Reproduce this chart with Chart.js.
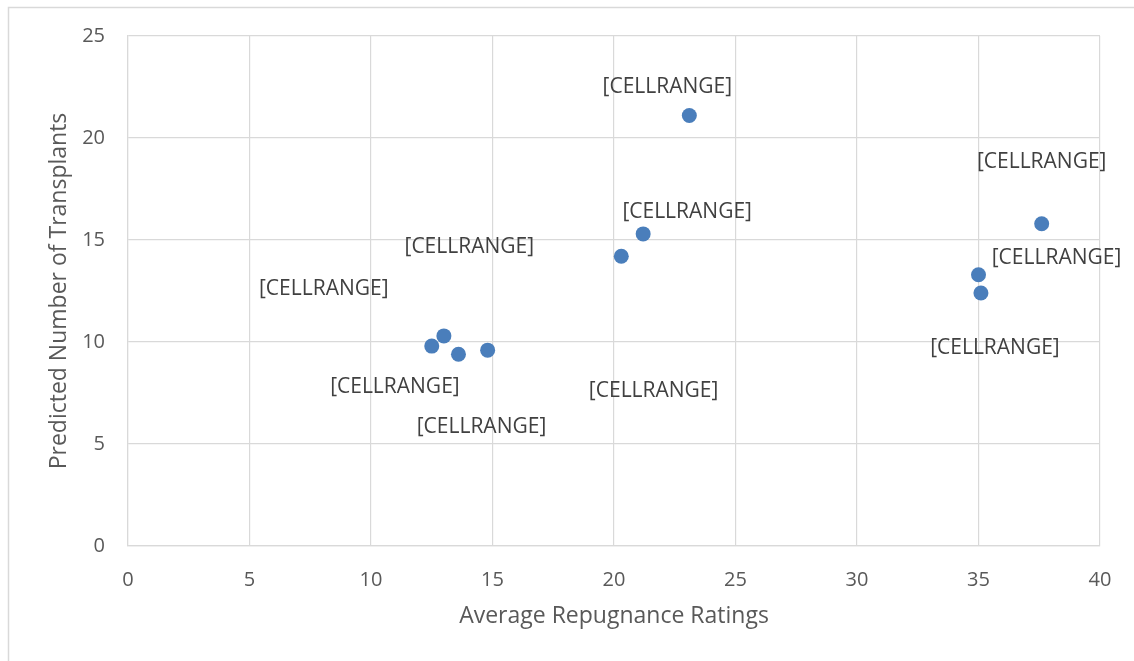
<!DOCTYPE html>
<html>
<head>
<meta charset="utf-8">
<script src="https://cdn.jsdelivr.net/npm/chart.js@4/dist/chart.umd.min.js"></script>
<style>
  body { margin: 0; background: #fff; }
  #wrap { position: relative; width: 1134px; height: 661px; }
</style>
</head>
<body>
<div id="wrap"><canvas id="repugnance-chart"></canvas></div>
<script>
// values
var repugnance = [23.1, 21.2, 20.3, 37.6, 35.0, 35.1, 12.5, 13.0, 13.6, 14.8];
var transplants = [21.1, 15.3, 14.2, 15.8, 13.3, 12.4, 9.8, 10.3, 9.4, 9.6];
var pointLabels = ['[CELLRANGE]', '[CELLRANGE]', '[CELLRANGE]', '[CELLRANGE]', '[CELLRANGE]',
                   '[CELLRANGE]', '[CELLRANGE]', '[CELLRANGE]', '[CELLRANGE]', '[CELLRANGE]'];
var xTitle = 'Average Repugnance Ratings';
var yTitle = 'Predicted Number of Transplants';

var points = [];
for (var i = 0; i < repugnance.length; i++) {
    points.push({x: repugnance[i], y: transplants[i]});
}

// where each label sits relative to its point (px)
var labelOffsets = [[-22, -29], [44, -22], [-152, -9], [0, -62], [78, -17],
                    [14, 55], [-108, -57], [-49, 51], [23, 73], [166, 41]];

var fontFamily = '"Open Sans", "Noto Sans", sans-serif';

var dataLabels = {
    id: 'dataLabels',
    afterDatasetsDraw: function(chart) {
        var ctx = chart.ctx;
        var meta = chart.getDatasetMeta(0);
        ctx.save();
        ctx.font = '21px ' + fontFamily;
        ctx.fillStyle = '#404040';
        ctx.textAlign = 'center';
        ctx.textBaseline = 'middle';
        meta.data.forEach(function(el, i) {
            var off = labelOffsets[i];
            ctx.fillText(pointLabels[i], el.x + off[0], el.y + off[1]);
        });
        ctx.restore();
    }
};

var frame = {
    id: 'frame',
    beforeDraw: function(chart) {
        var ctx = chart.ctx;
        ctx.save();
        ctx.strokeStyle = '#d9d9d9';
        ctx.lineWidth = 1.5;
        ctx.beginPath();
        ctx.moveTo(8.5, chart.height);
        ctx.lineTo(8.5, 7.5);
        ctx.lineTo(chart.width, 7.5);
        ctx.stroke();
        ctx.restore();
    }
};

var ctx = document.getElementById('repugnance-chart').getContext('2d');
var chart = new Chart(ctx, {
    type: 'scatter',
    data: {
        datasets: [{
            label: 'Transplants',
            data: points,
            backgroundColor: '#4a7ebb',
            borderWidth: 0,
            pointRadius: 7.5,
            pointHoverRadius: 7.5
        }]
    },
    options: {
        responsive: true,
        maintainAspectRatio: false,
        animation: false,
        layout: { padding: { top: 36, right: 34, bottom: 0, left: 0 } },
        plugins: {
            legend: { display: false },
            tooltip: { enabled: false }
        },
        scales: {
            x: {
                type: 'linear',
                min: 0,
                max: 40,
                ticks: { stepSize: 5, color: '#595959', padding: 22, font: { family: fontFamily, size: 20 } },
                grid: { color: '#d9d9d9', lineWidth: 1.2, drawTicks: false },
                border: { color: '#d9d9d9', width: 1.2 },
                title: {
                    display: true,
                    text: xTitle,
                    color: '#595959',
                    font: { family: fontFamily, size: 23 },
                    padding: { top: 0, bottom: 31 }
                },
                afterFit: function(scale) { scale.height = 115; }
            },
            y: {
                type: 'linear',
                min: 0,
                max: 25,
                ticks: { stepSize: 5, color: '#595959', padding: 23, font: { family: fontFamily, size: 20 } },
                grid: { color: '#d9d9d9', lineWidth: 1.2, drawTicks: false },
                border: { color: '#d9d9d9', width: 1.2 },
                title: {
                    display: true,
                    text: yTitle,
                    color: '#595959',
                    font: { family: fontFamily, size: 23 },
                    padding: { top: 46, bottom: 0 }
                },
                afterFit: function(scale) { scale.width = 128; }
            }
        }
    },
    plugins: [frame, dataLabels]
});
</script>
</body>
</html>
